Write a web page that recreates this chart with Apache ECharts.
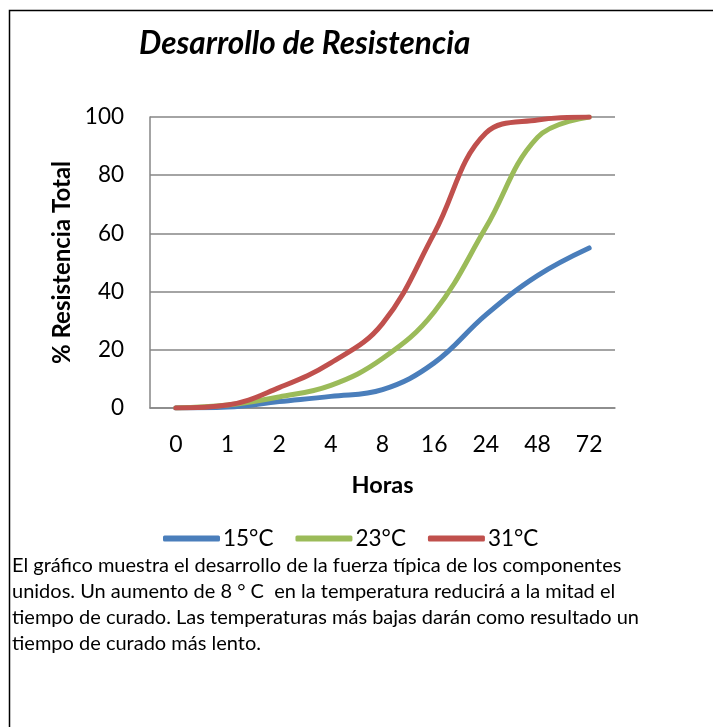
<!DOCTYPE html>
<html>
<head>
<meta charset="utf-8">
<script src="https://cdn.jsdelivr.net/npm/echarts@6/dist/echarts.min.js"></script>
<style>
  html, body { margin: 0; padding: 0; background: #fff; }
  #main { width: 713px; height: 727px; }
</style>
</head>
<body>
<div id="main"></div>
<script>
// horas
var hours = ["0", "1", "2", "4", "8", "16", "24", "48", "72"];
// % resistencia total por temperatura
var t15 = [0, 0.3, 2.2, 4, 6.3, 15.5, 32, 45.5, 55];
var t23 = [0, 1, 3.8, 7.8, 17, 33, 62, 93, 100];
var t31 = [0, 1, 7, 15.5, 29, 60, 94.5, 99, 100];
var yTicks = [0, 20, 40, 60, 80, 100];

var note = [
  "El gráfico muestra el desarrollo de la fuerza típica de los componentes",
  "unidos. Un aumento de 8 ° C  en la temperatura reducirá a la mitad el",
  "tiempo de curado. Las temperaturas más bajas darán como resultado un",
  "tiempo de curado más lento."
];

var font = "Lato, 'Open Sans', sans-serif";

var myChart = echarts.init(document.getElementById("main"));

function line(name, data, color) {
  return {
    name: name,
    type: "line",
    data: data,
    smooth: 0.4,
    symbol: "none",
    lineStyle: { width: 5, color: color, cap: "round" },
    itemStyle: { color: color }
  };
}

myChart.setOption({
  animation: false,
  title: {
    text: "Desarrollo de Resistencia",
    left: 134,
    top: 23,
    textStyle: {
      fontFamily: font,
      fontSize: 31.5,
      fontStyle: "italic",
      fontWeight: "bold",
      color: "#000"
    }
  },
  grid: { left: 150, right: 98, top: 117, bottom: 319 },
  legend: {
    top: 522,
    left: 158,
    itemWidth: 57,
    itemHeight: 6,
    itemGap: 22,
    icon: "roundRect",
    textStyle: { fontFamily: font, fontSize: 22.5, color: "#000", padding: [0, 0, 0, -2] },
    data: ["15°C", "23°C", "31°C"]
  },
  xAxis: {
    type: "category",
    data: hours,
    boundaryGap: true,
    name: "Horas",
    nameLocation: "middle",
    nameGap: 65,
    nameTextStyle: { fontFamily: font, fontSize: 23.5, fontWeight: "bold", color: "#000" },
    axisLine: { lineStyle: { color: "#868686", width: 1.5 } },
    axisTick: { show: false },
    axisLabel: { fontFamily: font, fontSize: 23, color: "#000", margin: 25 }
  },
  yAxis: {
    type: "value",
    min: yTicks[0],
    max: yTicks[yTicks.length - 1],
    interval: 20,
    name: "% Resistencia Total",
    nameLocation: "middle",
    nameGap: 75,
    nameRotate: 90,
    nameTextStyle: { fontFamily: font, fontSize: 24, fontWeight: "bold", color: "#000" },
    axisLine: { show: true, lineStyle: { color: "#868686", width: 1.5 } },
    axisTick: { show: false },
    splitLine: { lineStyle: { color: "#868686", width: 1.5 } },
    axisLabel: { fontFamily: font, fontSize: 22.5, color: "#000", margin: 26 }
  },
  series: [
    line("15°C", t15, "#4A7EBB"),
    line("23°C", t23, "#9BBB59"),
    line("31°C", t31, "#C0504D")
  ],
  graphic: [
    {
      type: "rect",
      shape: { x: 9.5, y: 10.5, width: 720, height: 730 },
      style: { fill: null, stroke: "#000", lineWidth: 1.5 },
      silent: true
    },
    {
      type: "text",
      left: 12,
      top: 553,
      style: {
        text: note.join("\n"),
        fontFamily: font,
        fontSize: 20,
        lineHeight: 25.8,
        fill: "#000"
      }
    }
  ]
});
</script>
</body>
</html>
